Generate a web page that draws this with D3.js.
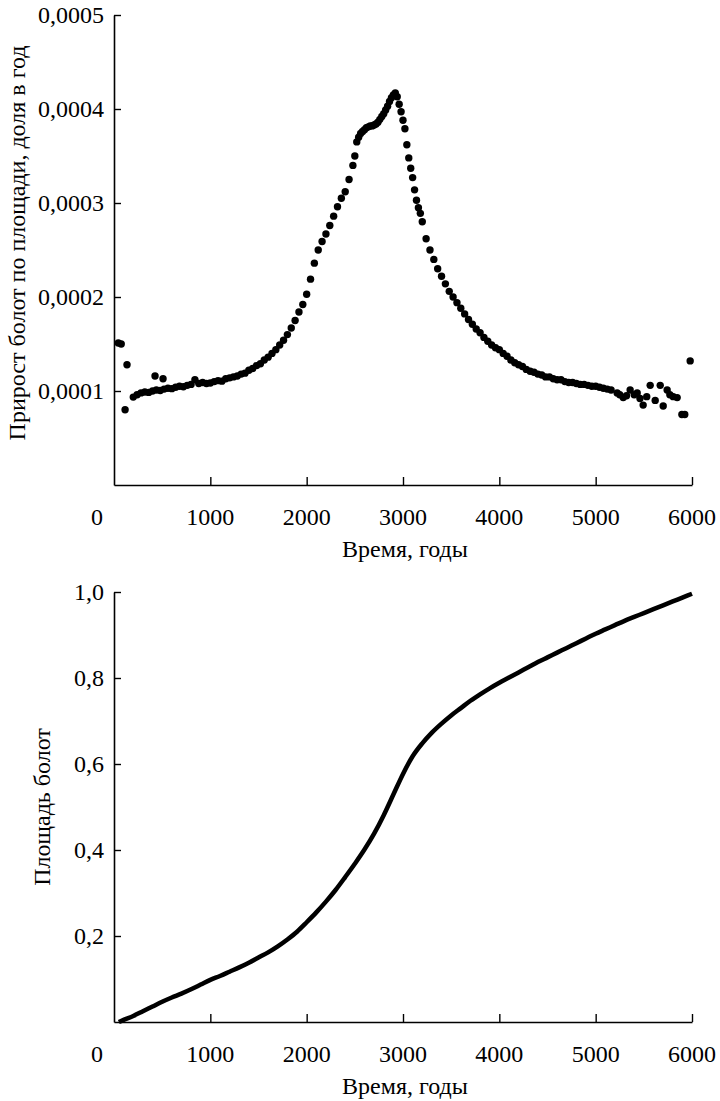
<!DOCTYPE html>
<html>
<head>
<meta charset="utf-8">
<script src="https://cdn.jsdelivr.net/npm/d3@7"></script>
<style>
  html, body { margin: 0; padding: 0; background: #fff; }
  svg { display: block; }
  text { font-family: "Liberation Serif", "Times New Roman", serif; fill: #000; }
</style>
</head>
<body>
<svg id="chart" width="720" height="1101"></svg>
<script>
// ---------- DATA ----------
const xTicks = [1000, 2000, 3000, 4000, 5000, 6000];
const xTickLabels = ["1000", "2000", "3000", "4000", "5000", "6000"];
const growthTicks = [0.0001, 0.0002, 0.0003, 0.0004, 0.0005];
const growthTickLabels = ["0,0001", "0,0002", "0,0003", "0,0004", "0,0005"];
const areaTicks = [0.2, 0.4, 0.6, 0.8, 1.0];
const areaTickLabels = ["0,2", "0,4", "0,6", "0,8", "1,0"];
const xTitle = "Время, годы";
const growthTitle = "Прирост болот по площади, доля в год";
const areaTitle = "Площадь болот";

// [year, growth rate per year]
const growthPoints = [
  [45,15.1e-5],[75,15.0e-5],[115,8.0e-5],[135,12.8e-5],[426,11.6e-5],[509,11.3e-5],
  [200,9.35e-5],[240,9.6e-5],[280,9.8e-5],[320,9.9e-5],[360,9.85e-5],[400,10.0e-5],[440,10.1e-5],[480,10.05e-5],
  [520,10.2e-5],[560,10.3e-5],[600,10.25e-5],[640,10.4e-5],[680,10.5e-5],[720,10.45e-5],[760,10.6e-5],[800,10.7e-5],
  [840,11.2e-5],[880,10.8e-5],[920,10.9e-5],[960,10.8e-5],[1000,10.85e-5],[1040,11.0e-5],[1080,11.1e-5],[1120,11.05e-5],
  [1160,11.3e-5],[1200,11.4e-5],[1240,11.5e-5],[1280,11.6e-5],[1320,11.8e-5],[1360,11.9e-5],[1400,12.2e-5],[1440,12.4e-5],
  [1480,12.7e-5],[1520,12.9e-5],[1560,13.3e-5],[1600,13.6e-5],[1640,14.0e-5],[1680,14.4e-5],[1720,14.9e-5],[1760,15.4e-5],
  [1800,16.0e-5],[1840,16.7e-5],[1880,17.5e-5],[1920,18.4e-5],[1960,19.2e-5],[2000,20.3e-5],[2040,21.9e-5],[2080,23.6e-5],
  [2120,25.0e-5],[2160,25.9e-5],[2200,26.7e-5],[2240,27.6e-5],[2280,28.6e-5],[2320,29.6e-5],[2360,30.5e-5],[2400,31.2e-5],
  [2440,32.5e-5],[2480,34.0e-5],[2500,35.0e-5],[2520,36.5e-5],[2540,37.0e-5],[2560,37.4e-5],[2580,37.6e-5],[2600,37.8e-5],
  [2620,38.0e-5],[2640,38.1e-5],[2660,38.2e-5],[2680,38.2e-5],[2700,38.3e-5],[2720,38.4e-5],[2740,38.6e-5],[2760,38.9e-5],
  [2780,39.2e-5],[2800,39.5e-5],[2820,39.9e-5],[2840,40.3e-5],[2860,40.8e-5],[2880,41.2e-5],[2900,41.5e-5],[2920,41.7e-5],
  [2940,41.3e-5],[2960,40.5e-5],[2980,39.7e-5],[3000,38.8e-5],[3020,37.9e-5],[3040,36.2e-5],[3060,34.8e-5],[3080,33.7e-5],
  [3100,32.7e-5],[3120,31.4e-5],[3140,30.3e-5],[3160,29.5e-5],[3180,28.9e-5],[3200,28.0e-5],[3240,26.2e-5],[3280,25.0e-5],
  [3320,24.0e-5],[3360,23.0e-5],[3400,22.2e-5],[3440,21.4e-5],[3480,20.6e-5],[3520,20.0e-5],[3560,19.4e-5],[3600,18.8e-5],
  [3640,18.2e-5],[3680,17.6e-5],[3720,17.1e-5],[3760,16.6e-5],[3800,16.2e-5],[3840,15.7e-5],[3880,15.3e-5],[3920,14.9e-5],
  [3960,14.6e-5],[4000,14.4e-5],[4040,14.0e-5],[4080,13.7e-5],[4120,13.3e-5],[4160,13.0e-5],[4200,12.8e-5],[4240,12.6e-5],
  [4280,12.3e-5],[4320,12.1e-5],[4360,12.0e-5],[4400,11.8e-5],[4440,11.7e-5],[4480,11.5e-5],[4520,11.5e-5],[4560,11.3e-5],
  [4600,11.2e-5],[4640,11.2e-5],[4680,11.0e-5],[4720,10.9e-5],[4760,10.9e-5],[4800,10.8e-5],[4840,10.7e-5],[4880,10.7e-5],
  [4920,10.6e-5],[4960,10.5e-5],[5000,10.5e-5],[5040,10.4e-5],[5080,10.3e-5],[5120,10.2e-5],[5160,10.1e-5],
  [5223,9.8e-5],[5250,9.6e-5],[5286,9.3e-5],[5320,9.5e-5],[5358,10.1e-5],[5400,9.6e-5],[5431,9.8e-5],[5460,9.2e-5],
  [5493,8.5e-5],[5530,9.4e-5],[5566,10.6e-5],[5618,9.0e-5],[5670,10.6e-5],[5701,8.4e-5],[5742,10.1e-5],[5770,9.6e-5],
  [5805,9.4e-5],[5846,9.3e-5],[5895,7.5e-5],[5925,7.5e-5],[5981,13.2e-5]
];

const areaYears = [50,100,200,300,400,500,600,700,800,900,1000,1100,1200,1300,1400,1500,1600,1700,1800,1900,2000,
  2100,2200,2300,2400,2500,2600,2700,2800,2900,3000,3100,3200,3300,3400,3500,3600,3700,3800,3900,4000,
  4100,4200,4300,4400,4500,4600,4700,4800,4900,5000,5100,5200,5300,5400,5500,5600,5700,5800,5900,6000];
const areaValues = [0.0,0.005,0.014,0.025,0.036,0.047,0.057,0.066,0.076,0.087,0.098,0.107,0.117,0.127,0.138,0.150,0.162,0.176,0.192,0.210,0.232,
  0.255,0.280,0.307,0.337,0.368,0.401,0.438,0.481,0.529,0.577,0.618,0.648,0.673,0.694,0.713,0.730,0.747,0.762,0.776,0.789,
  0.801,0.813,0.825,0.837,0.848,0.859,0.870,0.881,0.892,0.903,0.913,0.923,0.933,0.942,0.951,0.960,0.969,0.978,0.987,0.996];

// ---------- DRAW ----------
const svg = d3.select("#chart");
const FONT = 24;

function panel(cfg) {
  const g = svg.append("g");
  const x = d3.scaleLinear().domain([0, 6000]).range([114, 692]);
  const y = d3.scaleLinear().domain(cfg.yDomain).range([cfg.yBottom, cfg.yTop]);

  const xa = g.append("g").attr("transform", `translate(0,${cfg.yBottom})`)
    .call(d3.axisBottom(x).tickValues(xTicks).tickSizeInner(-8).tickSizeOuter(0).tickFormat(() => ""));
  xa.select(".domain").attr("stroke", "#000").attr("stroke-width", 1.6);
  xa.selectAll(".tick line").attr("stroke", "#000").attr("stroke-width", 1.4);

  const ya = g.append("g").attr("transform", `translate(114,0)`)
    .call(d3.axisLeft(y).tickValues(cfg.yTicks).tickSizeInner(-7).tickSizeOuter(0).tickFormat(() => ""));
  ya.select(".domain").attr("stroke", "#000").attr("stroke-width", 1.6);
  ya.selectAll(".tick line").attr("stroke", "#000").attr("stroke-width", 1.4);

  g.selectAll(".xl").data(xTicks).enter().append("text")
    .attr("x", d => x(d)).attr("y", cfg.yBottom + 40)
    .attr("text-anchor", "middle").attr("font-size", FONT)
    .text((d, i) => xTickLabels[i]);
  g.append("text").attr("x", 97).attr("y", cfg.yBottom + 40)
    .attr("text-anchor", "middle").attr("font-size", FONT).text("0");

  g.selectAll(".yl").data(cfg.yTicks).enter().append("text")
    .attr("x", 104).attr("y", d => y(d)).attr("dy", "0.34em")
    .attr("text-anchor", "end").attr("font-size", FONT)
    .text((d, i) => cfg.yTickLabels[i]);

  g.append("text").attr("x", 405).attr("y", cfg.yBottom + 72)
    .attr("text-anchor", "middle").attr("font-size", FONT).text(xTitle);
  g.append("text").attr("transform", `translate(${cfg.yTitleX},${cfg.yTitleY}) rotate(-90)`)
    .attr("text-anchor", "middle").attr("font-size", FONT).text(cfg.yTitle);

  return { g, x, y };
}

const topPanel = panel({
  yDomain: [0, 0.0005], yTop: 15, yBottom: 485,
  yTicks: growthTicks, yTickLabels: growthTickLabels,
  yTitle: growthTitle, yTitleX: 25, yTitleY: 243
});
topPanel.g.append("g").selectAll("circle").data(growthPoints).enter().append("circle")
  .attr("cx", d => topPanel.x(d[0])).attr("cy", d => topPanel.y(d[1]))
  .attr("r", 3.7).attr("fill", "#000");

const botPanel = panel({
  yDomain: [0, 1], yTop: 592, yBottom: 1022,
  yTicks: areaTicks, yTickLabels: areaTickLabels,
  yTitle: areaTitle, yTitleX: 50, yTitleY: 807
});
const areaData = areaYears.map((yr, i) => [yr, areaValues[i]]);
botPanel.g.append("path").datum(areaData)
  .attr("fill", "none").attr("stroke", "#000").attr("stroke-width", 4.5)
  .attr("stroke-linejoin", "round")
  .attr("d", d3.line().x(d => botPanel.x(d[0])).y(d => botPanel.y(d[1])).curve(d3.curveMonotoneX));
</script>
</body>
</html>
